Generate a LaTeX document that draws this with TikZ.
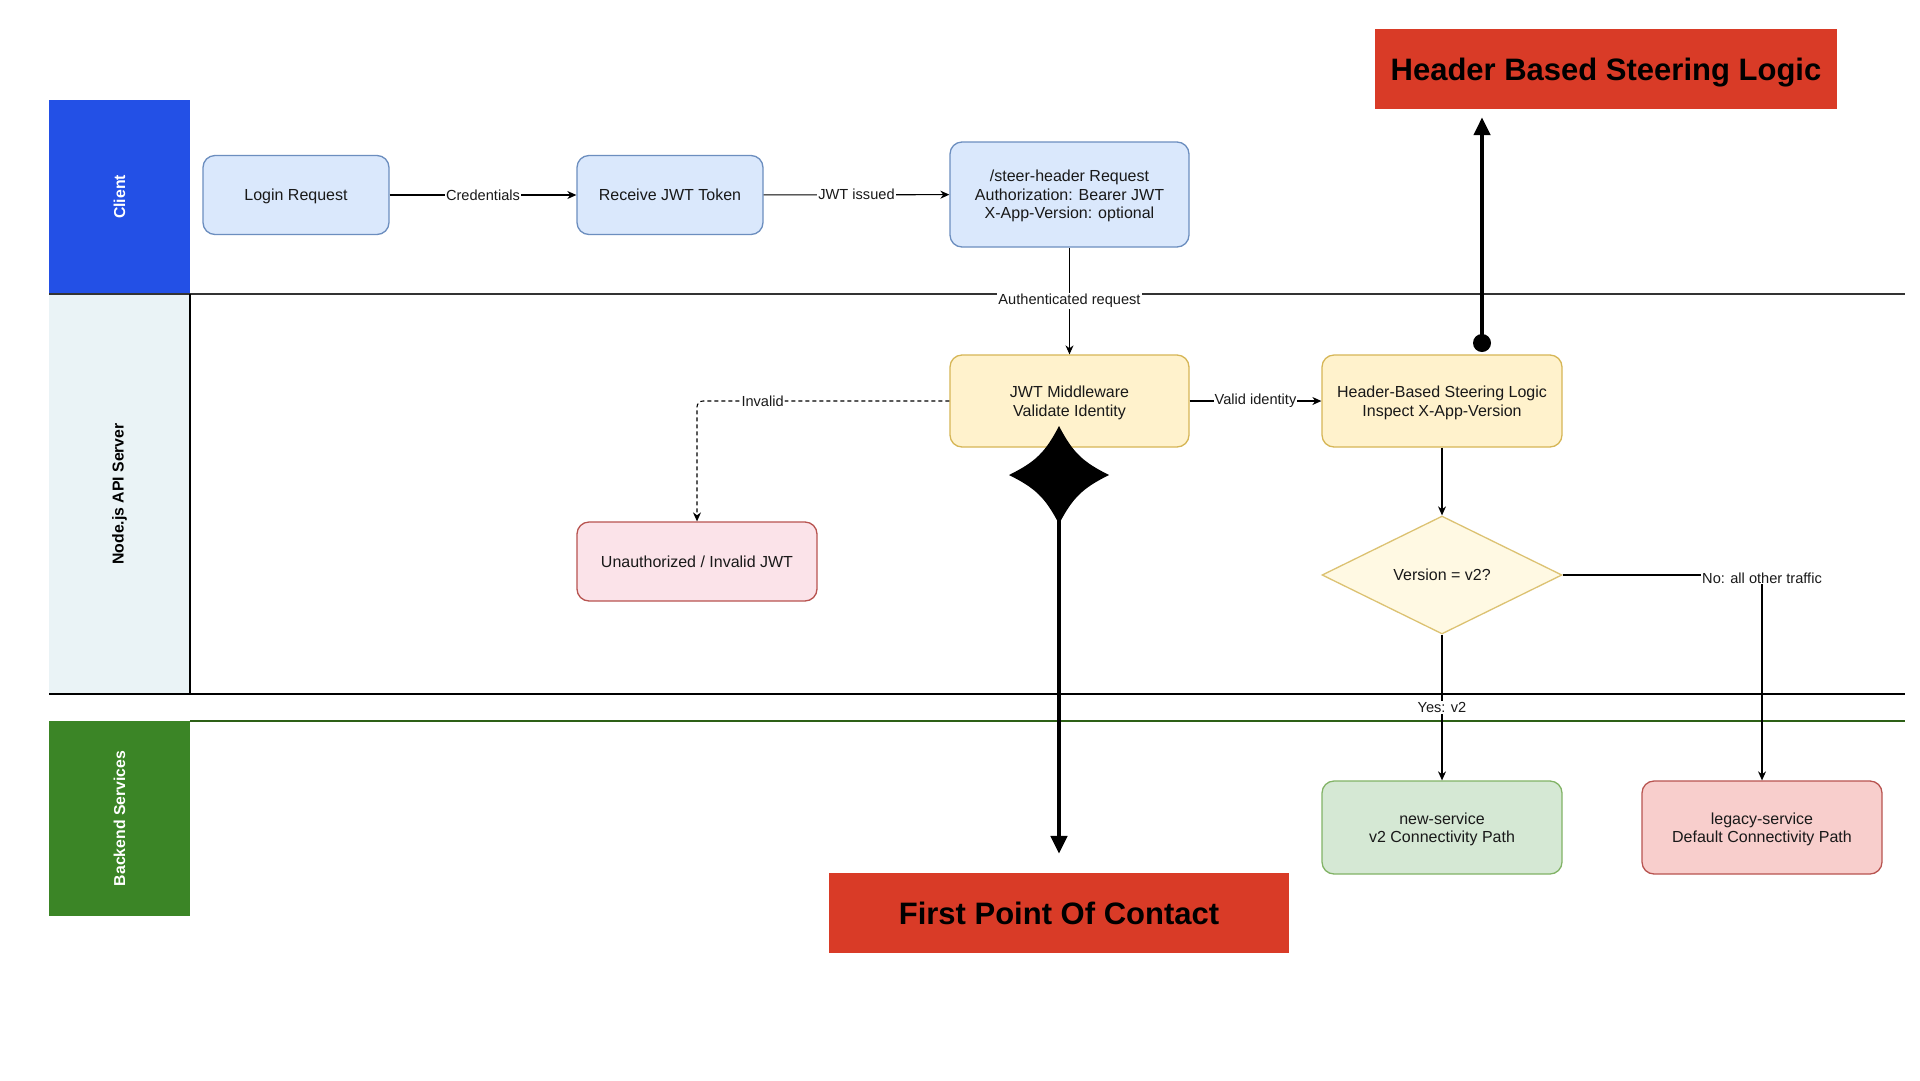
\documentclass[tikz,border=0pt]{standalone}
\usepackage{fontspec}
\setmainfont{Liberation Sans}
\usetikzlibrary{arrows.meta,shapes.geometric,calc}
\definecolor{clientblue}{HTML}{2350E6}
\definecolor{nodelane}{HTML}{EAF3F6}
\definecolor{backgreen}{HTML}{3B8526}
\definecolor{redbox}{HTML}{D93B27}
\definecolor{bfill}{HTML}{DAE8FC}
\definecolor{bdraw}{HTML}{6C8EBF}
\definecolor{yfill}{HTML}{FFF2CC}
\definecolor{ydraw}{HTML}{D6B656}
\definecolor{dfill}{HTML}{FFF9E3}
\definecolor{ddraw}{HTML}{DCC272}
\definecolor{ufill}{HTML}{FBE3E9}
\definecolor{rdraw}{HTML}{B85450}
\definecolor{gfill}{HTML}{D5E8D4}
\definecolor{gdraw}{HTML}{82B366}
\definecolor{lfill}{HTML}{F8CECC}
\definecolor{laneline}{HTML}{333333}
\definecolor{greenline}{HTML}{2D6016}
\begin{document}
\begin{tikzpicture}[x=1pt,y=-1pt,
  lanehead/.style={minimum width=141pt, inner sep=0pt},
  lanetext/.style={rotate=90, font=\fontsize{15.8}{18}\bfseries\selectfont},
  box/.style={draw, rounded corners=12pt, line width=1.3pt, align=center,
    inner sep=0pt, minimum width=#1, text depth=0pt, font=\fontsize{16}{18.4}\selectfont, text=black!90},
  box/.default=240pt,
  lbl/.style={fill=white, inner sep=1pt, text=black!90, font=\fontsize{14.6}{16}\selectfont},
  conn/.style={line width=1.1pt, -{Stealth[length=9pt,width=8pt]}},
  bigarrow/.style={line width=4.5pt, -{Triangle[length=18pt,width=16pt]}},
  callout/.style={fill=redbox, inner sep=0pt, minimum height=80pt, text depth=0pt,
    font=\fontsize{31}{36}\bfseries\selectfont, text=black}
]
\useasboundingbox (0,0) rectangle (1920,1080);
\fill[white] (0,0) rectangle (1920,1080);

% lane headers
\node[lanehead, fill=clientblue, minimum height=194pt] (lc) at (119.5,197) {};
\node[lanehead, fill=nodelane, minimum height=400pt] (ln) at (119.5,494) {};
\node[lanehead, fill=backgreen, minimum height=195pt] (lb) at (119.5,818.5) {};
\node[lanetext, text=white] (lct) at (lc) {Client};
\node[lanetext, text=black] (lnt) at (ln) {Node.js API Server};
\node[lanetext, text=white] (lbt) at (lb) {Backend Services};

% lane lines
\coordinate (l1a) at (49,294);   \coordinate (l1b) at (1905,294);
\coordinate (l2a) at (49,694);   \coordinate (l2b) at (1905,694);
\coordinate (l3a) at (190,721);  \coordinate (l3b) at (1905,721);
\coordinate (v1a) at (190,294);  \coordinate (v1b) at (190,694);
\draw[laneline, line width=1.5pt] (l1a) -- (l1b);
\draw[black, line width=1.5pt] (l2a) -- (l2b);
\draw[greenline, line width=1.3pt] (l3a) -- (l3b);
\draw[black, line width=1.3pt] (v1a) -- (v1b);

% client nodes
\node[box=186pt, fill=bfill, draw=bdraw, minimum height=79pt] (login) at (296,195) {Login Request};
\node[box=186pt, fill=bfill, draw=bdraw, minimum height=79pt] (recv) at (670,195) {Receive JWT Token};
\node[box=239pt, fill=bfill, draw=bdraw, minimum height=105pt] (steer) at (1069.5,194.5)
  {/steer-header Request\\Authorization: Bearer JWT\\X-App-Version: optional};

% server nodes
\node[box=239pt, fill=yfill, draw=ydraw, minimum height=92pt] (jwt) at (1069.5,401) {JWT Middleware\\Validate Identity};
\node[box=240pt, fill=yfill, draw=ydraw, minimum height=92pt] (hbs) at (1442,401) {Header-Based Steering Logic\\Inspect X-App-Version};
\node[box=240pt, fill=ufill, draw=rdraw, minimum height=79pt] (unauth) at (697,561.5) {Unauthorized / Invalid JWT};
\node[draw=ddraw, fill=dfill, line width=1.3pt, shape=diamond, aspect=2.03, inner sep=0pt,
  minimum width=240pt, minimum height=118pt, text depth=0pt, font=\fontsize{16}{18}\selectfont, text=black!90] (dia) at (1442,575) {Version = v2?};

% backend nodes
\node[box=240pt, fill=gfill, draw=gdraw, minimum height=93pt] (newsvc) at (1442,827.5) {new-service\\v2 Connectivity Path};
\node[box=240pt, fill=lfill, draw=rdraw, minimum height=93pt] (legacy) at (1762,827.5) {legacy-service\\Default Connectivity Path};

% connectors
\draw[conn] (login) -- node[lbl] {Credentials} (recv);
\draw[conn] (recv) -- node[lbl] {JWT issued} (steer);
\draw[conn] (steer) -- node[lbl] {Authenticated request} (jwt);
\draw[conn] (jwt) -- node[lbl] {Valid identity} (hbs);
\draw[conn, dash pattern=on 4pt off 3pt, rounded corners=6pt] (jwt.west) -| node[lbl, pos=0.37] {Invalid} (unauth.north);
\draw[conn] (hbs) -- (dia);
\draw[conn] (dia.east) -| node[lbl, pos=0.5, yshift=-3pt] {No: all other traffic} (legacy.north);
\draw[conn] (dia.south) -- node[lbl] {Yes: v2} (newsvc.north);

% callouts
\node[callout, minimum width=460pt] (fpoc) at (1059,913) {First Point Of Contact};
\node[callout, minimum width=462pt] (hbsl) at (1606,69) {Header Based Steering Logic};

% star + arrow to first point of contact
\coordinate (starc) at (1059,475);
\draw[bigarrow, shorten >=19pt] (starc) -- (fpoc.north);
\fill[black] ($(starc)+(0,-49)$)
  .. controls ($(starc)+(14,-22)$) and ($(starc)+(24,-13)$) .. ($(starc)+(50,0)$)
  .. controls ($(starc)+(24,13)$) and ($(starc)+(14,22)$) .. ($(starc)+(0,49)$)
  .. controls ($(starc)+(-14,22)$) and ($(starc)+(-24,13)$) .. ($(starc)+(-50,0)$)
  .. controls ($(starc)+(-24,-13)$) and ($(starc)+(-14,-22)$) .. cycle;

% dot + arrow to header based steering logic
\coordinate (dot) at (1482,343);
\draw[bigarrow, shorten >=8pt] (dot) -- (dot |- hbsl.south);
\fill[black] (dot) circle (9);
\end{tikzpicture}
\end{document}
